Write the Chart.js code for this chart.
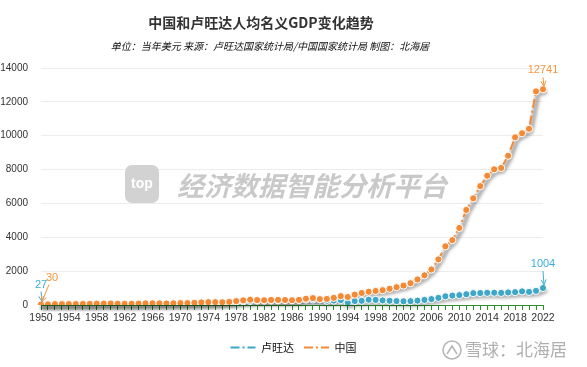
<!DOCTYPE html>
<html>
<head>
<meta charset="utf-8">
<script src="https://cdn.jsdelivr.net/npm/chart.js@4"></script>
<style>
  html, body { margin: 0; padding: 0; background: #fff; }
  #chart { display: block; }
</style>
</head>
<body>
<canvas id="chart" width="587" height="367"></canvas>
<script>
// per-capita nominal GDP, current USD
const years = [
  '1950','1951','1952','1953','1954','1955','1956','1957','1958','1959',
  '1960','1961','1962','1963','1964','1965','1966','1967','1968','1969',
  '1970','1971','1972','1973','1974','1975','1976','1977','1978','1979',
  '1980','1981','1982','1983','1984','1985','1986','1987','1988','1989',
  '1990','1991','1992','1993','1994','1995','1996','1997','1998','1999',
  '2000','2001','2002','2003','2004','2005','2006','2007','2008','2009',
  '2010','2011','2012','2013','2014','2015','2016','2017','2018','2019',
  '2020','2021','2022'
];
const rwanda = [
  27, 29, 30, 31, 32, 33, 34, 35, 36, 38,
  40, 40, 42, 29, 39, 47, 46, 69, 70, 72,
  71, 72, 76, 86, 95, 117, 130, 155, 183, 223,
  240, 262, 262, 263, 271, 284, 297, 305, 320, 330,
  340, 252, 260, 290, 125, 233, 247, 310, 300, 270,
  250, 230, 220, 225, 255, 300, 350, 420, 515, 555,
  585, 635, 700, 705, 720, 725, 715, 740, 760, 805,
  775, 835, 1004
];
const china = [
  30, 40, 53, 54, 55, 57, 63, 64, 76, 82,
  89, 75, 70, 74, 85, 98, 103, 96, 90, 99,
  112, 117, 130, 153, 168, 165, 163, 182, 229, 273,
  312, 292, 282, 297, 302, 295, 282, 302, 370, 407,
  348, 359, 423, 525, 473, 610, 710, 782, 829, 873,
  959, 1053, 1148, 1288, 1508, 1753, 2099, 2694, 3468, 3832,
  4550, 5614, 6301, 7020, 7636, 8016, 8094, 8817, 9905, 10144,
  10409, 12618, 12741
];
const seriesNames = ['卢旺达', '中国'];
const yTicks = [0, 2000, 4000, 6000, 8000, 10000, 12000, 14000];

const TEAL = '#3ea6c6';
const ORANGE = '#f58a36';
const AXIS_GREEN = '#2e8b2e';
const NUM_FONT = "'Liberation Sans', Arial, sans-serif";
const CJK_FONT = "'Noto Sans CJK SC', 'Noto Sans', sans-serif";

// value callouts: which series / point, label colour, label offset from the point
const callouts = [
  { ds: 0, idx: 0, color: '#3aaedb', dx: 0, dy: -20, ax: 0 },
  { ds: 1, idx: 0, color: '#f7963c', dx: 11, dy: -27, ax: 8 },
  { ds: 0, idx: years.length - 1, color: '#3aaedb', dx: 0, dy: -24, ax: 0 },
  { ds: 1, idx: years.length - 1, color: '#f7963c', dx: 0, dy: -19, ax: 0 },
];

// blurred grey band under each series (drawn before the series)
const shadowPlugin = {
  id: 'shadow',
  beforeDatasetsDraw(chart) {
    const c = chart.ctx;
    c.save();
    c.filter = 'blur(1.5px)';
    c.strokeStyle = 'rgba(0,0,0,0.3)';
    c.lineWidth = 5;
    c.lineJoin = 'round';
    c.lineCap = 'round';
    [1, 0].forEach(di => {
      const pts = chart.getDatasetMeta(di).data;
      c.beginPath();
      pts.forEach((p, i) => {
        if (i === 0) c.moveTo(p.x + 2, p.y + 3);
        else c.lineTo(p.x + 2, p.y + 3);
      });
      c.stroke();
    });
    c.restore();
  }
};

// watermark in the plot area
const watermarkPlugin = {
  id: 'watermark',
  beforeDatasetsDraw(chart) {
    const c = chart.ctx;
    c.save();
    c.fillStyle = '#d2d2d2';
    c.beginPath();
    c.roundRect(125, 165, 34, 38, 7);
    c.fill();
    c.fillStyle = '#fff';
    c.font = "bold 14px 'Liberation Sans', Arial, sans-serif";
    c.textAlign = 'center';
    c.textBaseline = 'middle';
    c.fillText('top', 142, 184);
    c.fillStyle = '#c9c9c9';
    c.font = "italic bold 27px " + CJK_FONT;
    c.textAlign = 'left';
    c.fillText('经济数据智能分析平台', 177, 186);
    c.restore();
  }
};

// titles, value callouts, corner mark
const decorPlugin = {
  id: 'decor',
  afterDraw(chart) {
    const c = chart.ctx;
    c.save();
    c.textAlign = 'center';
    c.textBaseline = 'middle';
    c.fillStyle = '#333';
    c.font = "bold 14px " + CJK_FONT;
    c.fillText('中国和卢旺达人均名义GDP变化趋势', 261, 23);
    c.fillStyle = '#111';
    c.font = "italic 10px " + CJK_FONT;
    c.fillText('单位：当年美元 来源：卢旺达国家统计局/中国国家统计局 制图：北海居', 270, 46);

    callouts.forEach(co => {
      const pt = chart.getDatasetMeta(co.ds).data[co.idx];
      const val = chart.data.datasets[co.ds].data[co.idx];
      const lx = pt.x + co.dx, ly = pt.y + co.dy;
      c.fillStyle = co.color;
      c.strokeStyle = co.color;
      c.font = "11px " + NUM_FONT;
      c.fillText(String(val), lx, ly);
      const x0 = pt.x + co.ax, y0 = ly + 7;
      const x1 = pt.x + 1, y1 = pt.y - 3;
      c.lineWidth = 1;
      c.beginPath();
      c.moveTo(x0, y0);
      c.lineTo(x1, y1);
      c.stroke();
      const a = Math.atan2(y1 - y0, x1 - x0);
      c.beginPath();
      c.moveTo(x1 - 6 * Math.cos(a - 0.45), y1 - 6 * Math.sin(a - 0.45));
      c.lineTo(x1, y1);
      c.lineTo(x1 - 6 * Math.cos(a + 0.45), y1 - 6 * Math.sin(a + 0.45));
      c.stroke();
    });

    // corner mark
    c.strokeStyle = '#b5b5b5';
    c.lineWidth = 1.5;
    c.beginPath();
    c.arc(452, 350, 9, 0, Math.PI * 2);
    c.stroke();
    c.beginPath();
    c.moveTo(447, 354); c.lineTo(452, 346); c.lineTo(457, 354);
    c.stroke();
    c.fillStyle = '#b0b0b0';
    c.font = "17px " + CJK_FONT;
    c.textAlign = 'left';
    c.fillText('雪球：北海居', 465, 350);
    c.restore();
  }
};

function lineSet(label, data, color, order) {
  return {
    label, data, order,
    borderColor: color,
    backgroundColor: color,
    borderWidth: 2,
    borderDash: [9, 3, 2, 3],
    pointRadius: 3.6,
    pointBackgroundColor: color,
    pointBorderColor: '#fff',
    pointBorderWidth: 1,
    tension: 0,
  };
}

new Chart(document.getElementById('chart').getContext('2d'), {
  type: 'line',
  data: {
    labels: years,
    datasets: [
      lineSet(seriesNames[0], rwanda, TEAL, 1),
      lineSet(seriesNames[1], china, ORANGE, 0),
    ]
  },
  options: {
    responsive: false,
    animation: false,
    devicePixelRatio: 1,
    layout: { padding: { left: 0, right: 0, top: 68, bottom: 4 } },
    plugins: {
      title: { display: false },
      tooltip: { enabled: false },
      legend: {
        position: 'bottom',
        labels: {
          usePointStyle: true,
          pointStyle: 'line',
          pointStyleWidth: 25,
          boxWidth: 25,
          boxHeight: 11,
          padding: 10,
          color: '#111',
          font: { family: CJK_FONT, size: 11 },
          sort: (a, b) => a.datasetIndex - b.datasetIndex,
          generateLabels: chart => Chart.defaults.plugins.legend.labels.generateLabels(chart).map(item => {
            const ds = chart.data.datasets[item.datasetIndex];
            return Object.assign(item, {
              strokeStyle: ds.borderColor,
              fillStyle: ds.borderColor,
              lineWidth: 2,
              lineDash: ds.borderDash,
            });
          })
        }
      }
    },
    scales: {
      x: {
        offset: false,
        afterFit: s => { s.height = 27; },
        border: { display: true, color: AXIS_GREEN, width: 1 },
        grid: { display: true, drawOnChartArea: false, drawTicks: true, tickLength: 5, color: AXIS_GREEN, offset: false },
        ticks: {
          autoSkip: false, maxRotation: 0, padding: 2,
          color: '#333', font: { family: NUM_FONT, size: 10.5 },
          callback: (v, i) => (i % 4 === 0 ? years[i] : '')
        }
      },
      y: {
        min: yTicks[0],
        max: yTicks[yTicks.length - 1],
        afterFit: s => { s.width = 41; },
        afterBuildTicks: s => { s.ticks = yTicks.map(v => ({ value: v })); },
        border: { display: false },
        grid: { color: '#ececec', drawTicks: false },
        ticks: {
          padding: 13, color: '#333', font: { family: NUM_FONT, size: 10 },
          callback: v => String(v)
        }
      },
      // empty right-hand gutter so the legend stays centred on the page
      gutter: {
        position: 'right',
        min: 0, max: 1,
        afterFit: s => { s.width = 44; },
        border: { display: false },
        grid: { display: false },
        ticks: { display: false }
      }
    }
  },
  plugins: [shadowPlugin, watermarkPlugin, decorPlugin]
});
</script>
</body>
</html>
